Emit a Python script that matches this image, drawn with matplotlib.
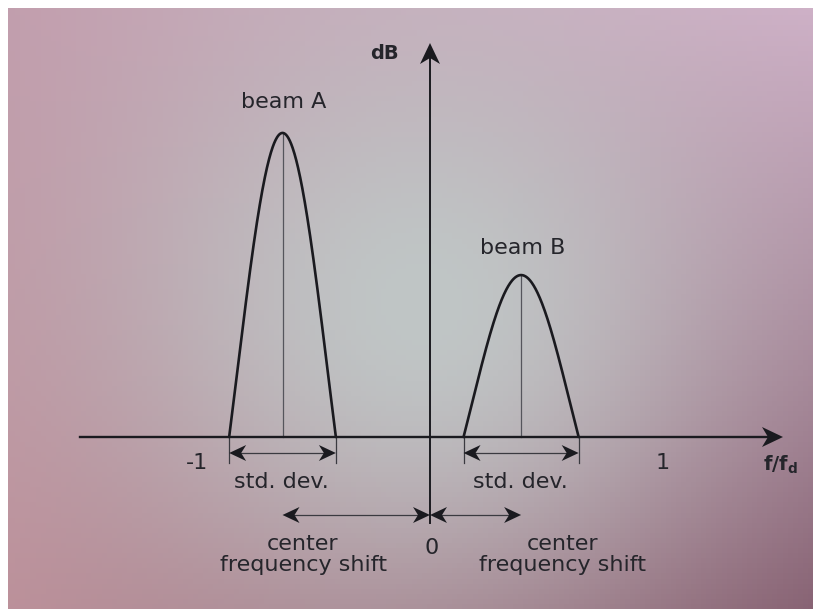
import numpy as np
import matplotlib.pyplot as plt
from matplotlib.patches import Polygon

# beams: centre (f/fd), half width of the base (f/fd), peak level (arbitrary dB units)
beam_names = ["beam A", "beam B"]
beam_center = [-0.633, 0.391]
beam_halfwidth = [0.229, 0.247]
beam_peak = [1.305, 0.695]

tick_values = [-1, 0, 1]
tick_labels = ["-1", "0", "1"]

INK = "#1a1a1f"
TEXT = "#25252b"
FONT = "DejaVu Sans"

fig = plt.figure(figsize=(8.13, 6.09), dpi=100)
ax = fig.add_axes([0, 0, 1, 1])
s = 233.0  # pixels per unit on both axes
x0, x1 = -430 / s, 383 / s
y0, y1 = -172 / s, 437 / s
ax.set_xlim(x0, x1)
ax.set_ylim(y0, y1)
ax.axis("off")

# paper background: pinkish corners, greyish middle
ny, nx = 120, 160
gx, gy = np.meshgrid(np.linspace(0, 1, nx), np.linspace(0, 1, ny))
tl = np.array([194, 156, 172])
tr = np.array([208, 176, 200])
bl = np.array([188, 142, 152])
br = np.array([132, 92, 110])
mid = np.array([192, 198, 198])
top = tl[None, None, :] * (1 - gx[..., None]) + tr[None, None, :] * gx[..., None]
bot = bl[None, None, :] * (1 - gx[..., None]) + br[None, None, :] * gx[..., None]
bg = top * (1 - gy[..., None]) + bot * gy[..., None]
w = np.exp(-(((gx - 0.52) / 0.38) ** 2 + ((gy - 0.5) / 0.5) ** 2))[..., None]
bg = bg * (1 - w) + mid[None, None, :] * w
ax.imshow(bg / 255.0, extent=(x0, x1, y0, y1), origin="upper", aspect="auto", zorder=0)

# white border of the scan along top and left
ax.axhspan(y1 - 8 / s, y1, color="white", zorder=1, lw=0)
ax.axvspan(x0, x0 + 8 / s, color="white", zorder=1, lw=0)


def head(tip, direction, length=17 / s, half=8 / s, notch=5 / s, color=INK):
    ux, uy = direction
    nx_, ny_ = -uy, ux
    tx, ty = tip
    pts = [
        (tx, ty),
        (tx - length * ux + half * nx_, ty - length * uy + half * ny_),
        (tx - (length - notch) * ux, ty - (length - notch) * uy),
        (tx - length * ux - half * nx_, ty - length * uy - half * ny_),
    ]
    ax.add_patch(Polygon(pts, closed=True, color=color, lw=0, zorder=5))


def double_arrow(xa, xb, y, lw=0.9):
    ax.plot([xa + 10 / s, xb - 10 / s], [y, y], color="#3a3a40", lw=lw, zorder=4)
    head((xa, y), (-1, 0))
    head((xb, y), (1, 0))


# axes of the diagram
ax.plot([-350 / s, 338 / s], [0, 0], color=INK, lw=1.7, zorder=4)
head((353 / s, 0), (1, 0), length=21 / s, half=10 / s, notch=6 / s)
ax.plot([0, 0], [-86 / s, 380 / s], color=INK, lw=1.4, zorder=4)
head((0, 394 / s), (0, 1), length=21 / s, half=10 / s, notch=6 / s)

ax.text(-0.195, 1.648, "dB", fontsize=14, fontweight="bold", color=TEXT,
        ha="center", va="center", family=FONT)
ax.text(1.502, -0.118, r"$\mathbf{f/f_d}$", fontsize=14, color=TEXT,
        ha="center", va="center")

for v, lab in zip(tick_values, tick_labels):
    if v == 0:
        ax.text(0.009, -0.476, lab, fontsize=16, color=TEXT, ha="center", va="center", family=FONT)
    else:
        ax.text(v, -0.112, lab, fontsize=16, color=TEXT, ha="center", va="center", family=FONT)

# beams: gaussian spectrum shown above its half-power level
label_offset = [0.131, 0.116]
for name, c, hw, pk, off in zip(beam_names, beam_center, beam_halfwidth, beam_peak, label_offset):
    sigma = hw / np.sqrt(2 * np.log(2))
    x = np.linspace(c - hw, c + hw, 300)
    g = (np.exp(-((x - c) ** 2) / (2 * sigma ** 2)) - 0.5) / 0.5
    ax.plot(x, pk * g, color=INK, lw=1.9, zorder=4, solid_capstyle="round")
    ax.plot([c, c], [0, pk], color="#55555c", lw=0.9, zorder=3)
    ax.text(c + 0.006, pk + off, name, fontsize=16, color=TEXT, ha="center",
            va="center", family=FONT)

    # std. dev. span below the axis
    for xe in (c - hw, c + hw):
        ax.plot([xe, xe], [0, -26 / s], color="#3a3a40", lw=0.9, zorder=3)
    double_arrow(c - hw, c + hw, -16 / s)
    ax.text(c - 0.004, -0.193, "std. dev.", fontsize=16, color=TEXT, ha="center",
            va="center", family=FONT)

# centre frequency shift of each beam
cfs_y = -78 / s
double_arrow(beam_center[0], 0, cfs_y)
double_arrow(0, beam_center[1], cfs_y)
for xt in (-0.545, 0.567):
    ax.text(xt, -0.506, "center\nfrequency shift", fontsize=16, color=TEXT,
            ha="center", va="center", linespacing=1.05, family=FONT)

fig.savefig("out.png", dpi=100)
